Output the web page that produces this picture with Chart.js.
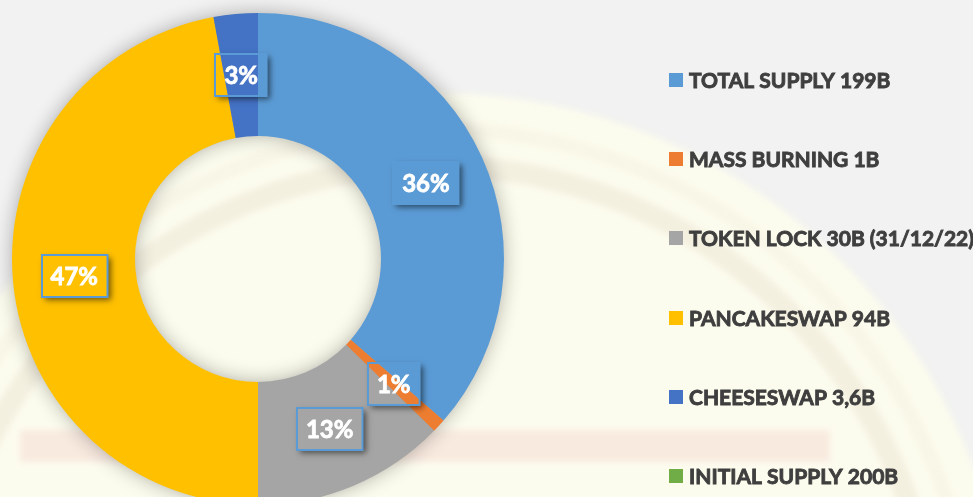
<!DOCTYPE html>
<html>
<head>
<meta charset="utf-8">
<script src="https://cdn.jsdelivr.net/npm/chart.js@4.4.0/dist/chart.umd.min.js"></script>
<style>
  html, body { margin: 0; padding: 0; width: 973px; height: 497px; overflow: hidden; background: #f2f2f2; }
  #wrap { position: absolute; left: 0; top: 0; width: 973px; height: 510px; }
</style>
</head>
<body>
<div id="wrap"><canvas id="donutChart" width="973" height="510"></canvas></div>
<script>
// token distribution, share of the ring in %
var categories = ['TOTAL SUPPLY 199B', 'MASS BURNING 1B', 'TOKEN LOCK 30B (31/12/22)', 'PANCAKESWAP 94B', 'CHEESESWAP 3,6B', 'INITIAL SUPPLY 200B'];
var shares = [36.4, 0.9, 12.7, 47.1, 2.9, 0];
var sliceColors = ['#5B9BD5', '#ED7D31', '#A5A5A5', '#FFC000', '#4472C4', '#70AD47'];

// faded logo behind the chart
var watermarkPlugin = {
  id: 'watermark',
  beforeDraw: function(chart) {
    var ctx = chart.ctx;
    ctx.save();
    ctx.fillStyle = '#f2f2f2';
    ctx.fillRect(0, 0, chart.width, chart.height);
    ctx.filter = 'blur(3px)';
    ctx.beginPath();
    ctx.arc(436, 666, 573, 0, Math.PI * 2);
    ctx.fillStyle = 'rgba(254, 254, 236, 0.8)';
    ctx.fill();
    ctx.lineWidth = 22;
    ctx.strokeStyle = 'rgba(185, 150, 120, 0.11)';
    ctx.beginPath();
    ctx.arc(436, 666, 500, 0, Math.PI * 2);
    ctx.stroke();
    ctx.lineWidth = 14;
    ctx.strokeStyle = 'rgba(215, 195, 165, 0.1)';
    ctx.beginPath();
    ctx.arc(436, 666, 537, 0, Math.PI * 2);
    ctx.stroke();
    ctx.fillStyle = 'rgba(230, 90, 110, 0.11)';
    ctx.fillRect(20, 430, 810, 32);
    ctx.restore();
  }
};

// soft shadow around the ring
var ringShadowPlugin = {
  id: 'ringShadow',
  beforeDatasetsDraw: function(chart) {
    var arc = chart.getDatasetMeta(0).data[0];
    if (!arc) return;
    var ctx = chart.ctx;
    ctx.save();
    ctx.beginPath();
    ctx.arc(arc.x, arc.y, arc.outerRadius - 1, 0, Math.PI * 2);
    ctx.arc(arc.x, arc.y, arc.innerRadius + 1, 0, Math.PI * 2, true);
    ctx.fillStyle = '#a0a0a0';
    ctx.shadowColor = 'rgba(0, 0, 0, 0.33)';
    ctx.shadowBlur = 20;
    ctx.fill();
    ctx.restore();
  }
};

// percentage boxes in the middle of each slice
var sliceLabelPlugin = {
  id: 'sliceLabels',
  afterDatasetsDraw: function(chart) {
    var ctx = chart.ctx;
    var total = shares.reduce(function(a, b) { return a + b; }, 0);
    chart.getDatasetMeta(0).data.forEach(function(arc, i) {
      if (!shares[i]) return;
      var pos = arc.tooltipPosition();
      var text = Math.round(shares[i] / total * 100) + '%';
      ctx.save();
      ctx.font = 'bold 24px Lato';
      var w = ctx.measureText(text).width + 18;
      var h = 42;
      var bx = Math.round(pos.x - w / 2), by = Math.round(pos.y - h / 2);

      // shadow only outside the (transparent) box
      ctx.save();
      ctx.beginPath();
      ctx.rect(0, 0, chart.width, chart.height);
      ctx.rect(bx, by, w, h);
      ctx.clip('evenodd');
      ctx.shadowColor = 'rgba(0, 0, 0, 0.55)';
      ctx.shadowBlur = 6;
      ctx.shadowOffsetX = 3;
      ctx.shadowOffsetY = 3;
      ctx.fillStyle = '#000';
      ctx.fillRect(bx, by, w, h);
      ctx.restore();

      ctx.lineWidth = 2;
      ctx.strokeStyle = '#5B9BD5';
      ctx.strokeRect(bx, by, w, h);
      ctx.fillStyle = '#ffffff';
      ctx.strokeStyle = '#ffffff';
      ctx.lineWidth = 0.8;
      ctx.textAlign = 'center';
      ctx.textBaseline = 'alphabetic';
      ctx.fillText(text, pos.x, pos.y + 9);
      ctx.strokeText(text, pos.x, pos.y + 9);
      ctx.restore();
    });
  }
};

// legend on the right
var sideLegendPlugin = {
  id: 'sideLegend',
  afterDraw: function(chart) {
    var ctx = chart.ctx;
    var bg = chart.data.datasets[0].backgroundColor;
    ctx.save();
    ctx.font = 'bold 21px Lato';
    ctx.textBaseline = 'alphabetic';
    ctx.lineWidth = 0.9;
    chart.data.labels.forEach(function(label, i) {
      var y = 80 + i * 79.2;
      ctx.fillStyle = bg[i];
      ctx.fillRect(669, Math.round(y - 7), 14, 14);
      ctx.fillStyle = '#3f3f3f';
      ctx.strokeStyle = '#3f3f3f';
      ctx.fillText(label, 689, y + 8);
      ctx.strokeText(label, 689, y + 8);
    });
    ctx.restore();
  }
};

var ctx = document.getElementById('donutChart').getContext('2d');
var donutChart = new Chart(ctx, {
  type: 'doughnut',
  data: {
    labels: categories,
    datasets: [{
      data: shares,
      backgroundColor: sliceColors,
      borderWidth: 0
    }]
  },
  options: {
    responsive: false,
    animation: false,
    events: [],
    cutout: '50%',
    layout: { padding: { left: 12, top: 13, right: 469, bottom: 5 } },
    plugins: {
      legend: { display: false },
      tooltip: { enabled: false }
    }
  },
  plugins: [watermarkPlugin, ringShadowPlugin, sliceLabelPlugin, sideLegendPlugin]
});
</script>
</body>
</html>
